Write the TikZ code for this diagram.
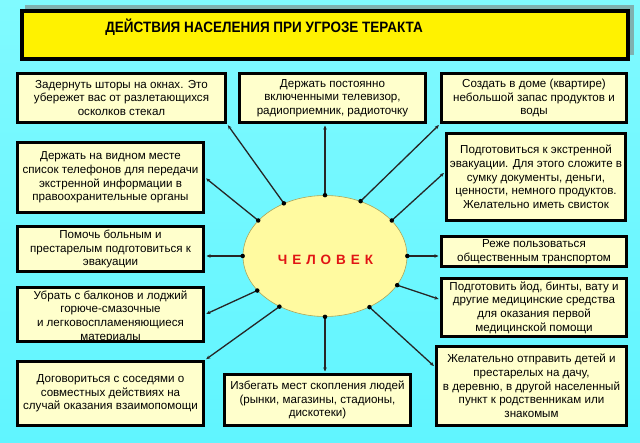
\documentclass[tikz,border=0pt]{standalone}
\usepackage{fontspec}
\setmainfont{Liberation Sans}
\usepackage{graphicx}
\usetikzlibrary{shapes.geometric,arrows.meta}
\definecolor{bgtop}{RGB}{128,250,255}
\definecolor{bgbot}{RGB}{96,245,255}
\definecolor{boxfill}{RGB}{255,255,204}
\definecolor{ellfill}{RGB}{255,250,160}
\definecolor{elldraw}{RGB}{170,165,90}
\definecolor{shadowc}{RGB}{128,176,176}
\definecolor{manred}{RGB}{225,20,20}
\tikzset{
  box/.style={draw=black, line width=3pt, fill=boxfill, rectangle, inner sep=0pt},
  txt/.style={align=center, inner sep=0pt, font=\fontsize{11.6}{13.7}\selectfont},
  conn/.style={line width=1.3pt, draw=black!85, -{Stealth[length=4pt,width=3.5pt]}, shorten >=1.5pt},
  dotc/.style={circle, fill=black, inner sep=0pt, minimum size=4.5pt}
}
\begin{document}
\begin{tikzpicture}[x=1pt,y=-1pt]
\useasboundingbox (0,0) rectangle (640,443);
\shade[top color=bgtop, middle color=white, bottom color=bgbot] (0,0) rectangle (640,443);
% title
\fill[shadowc] (25,5) rectangle (634,55);
\node[draw=black, line width=4pt, fill=yellow, minimum width=606pt, minimum height=48pt, inner sep=0pt] (title) at (325,35) {};
\node[inner sep=0pt] (ttext) at (264,27) {\scalebox{0.9}[1]{\fontsize{15}{17}\selectfont\bfseries ДЕЙСТВИЯ НАСЕЛЕНИЯ ПРИ УГРОЗЕ ТЕРАКТА}};
% center ellipse
\node[ellipse, draw=elldraw, line width=0.6pt, fill=ellfill, minimum width=164pt, minimum height=121pt, inner sep=0pt] (man) at (325,256) {};
\node[inner sep=0pt, text=manred, font=\fontsize{13.5}{15}\selectfont\bfseries] (mantext) at (325.5,260) {Ч\hspace{5pt}Е\hspace{5pt}Л\hspace{5pt}О\hspace{5pt}В\hspace{5pt}Е\hspace{5pt}К};
% boxes
\node[box, minimum width=208pt, minimum height=49pt] (b1) at (121.5,98) {};
\node[txt] at (b1) {Задернуть шторы на окнах. Это\\убережет вас от разлетающихся\\осколков стекал};
\node[box, minimum width=186pt, minimum height=49pt] (b2) at (332.5,98) {};
\node[txt] at (b2) {Держать постоянно\\включенными телевизор,\\радиоприемник, радиоточку};
\node[box, minimum width=185pt, minimum height=49pt] (b3) at (534,98) {};
\node[txt] at (b3) {Создать в доме (квартире)\\небольшой запас продуктов и\\воды};
\node[box, minimum width=186pt, minimum height=70pt] (b4) at (110.5,177.5) {};
\node[txt] at (b4) {Держать на видном месте\\список телефонов для передачи\\экстренной информации в\\правоохранительные органы};
\node[box, minimum width=179pt, minimum height=87pt] (b5) at (536,177) {};
\node[txt] at (b5) {Подготовиться к экстренной\\эвакуации. Для этого сложите в\\сумку документы, деньги,\\ценности, немного продуктов.\\Желательно иметь свисток};
\node[box, minimum width=186pt, minimum height=45pt] (b6) at (110.5,249) {};
\node[txt] at (b6) {Помочь больным и\\престарелым подготовиться к\\эвакуации};
\node[box, minimum width=185pt, minimum height=30pt] (b7) at (534,251.5) {};
\node[txt] at (b7) {Реже пользоваться\\общественным транспортом};
\node[box, minimum width=186pt, minimum height=54pt] (b8) at (110.5,314.5) {};
\node[txt] at ([yshift=-2pt]b8.center) {Убрать с балконов и лоджий\\горюче-смазочные\\и легковоспламеняющиеся\\материалы};
\node[box, minimum width=185pt, minimum height=58pt] (b9) at (534,307.5) {};
\node[txt] at (b9) {Подготовить йод, бинты, вату и\\другие медицинские средства\\для оказания первой\\медицинской помощи};
\node[box, minimum width=186pt, minimum height=64pt] (b10) at (110.5,393.5) {};
\node[txt] at (b10) {Договориться с соседями о\\совместных действиях на\\случай оказания взаимопомощи};
\node[box, minimum width=186pt, minimum height=51pt] (b11) at (317.5,400) {};
\node[txt] at (b11) {Избегать мест скопления людей\\(рынки, магазины, стадионы,\\дискотеки)};
\node[box, minimum width=190pt, minimum height=79pt] (b12) at (531.5,386) {};
\node[txt] at (b12) {Желательно отправить детей и\\престарелых на дачу,\\в деревню, в другой населенный\\пункт к родственникам или\\знакомым};
% connectors
\draw[conn] (man.128) -- (b1.south east);
\draw[conn] (man.90) -- (man.90 |- b2.south);
\draw[conn] (man.57) -- (b3.south west);
\draw[conn] (man.152) -- (b4.east);
\draw[conn] (man.28) -- ([yshift=5pt]b5.west);
\draw[conn] (man.180) -- (man.180 -| b6.east);
\draw[conn] (man.0) -- (man.0 -| b7.west);
\draw[conn] (man.207) -- (b8.east);
\draw[conn] (man.-22) -- ([yshift=8pt]b9.west);
\draw[conn] (man.228) -- (b10.north east);
\draw[conn] (man.270) -- (man.270 |- b11.north);
\draw[conn] (man.-49) -- ([yshift=19pt]b12.west);
% dots
\foreach \a in {128,90,57,152,28,180,0,207,-22,228,270,-49}
  \node[dotc] at (man.\a) {};
\end{tikzpicture}
\end{document}
